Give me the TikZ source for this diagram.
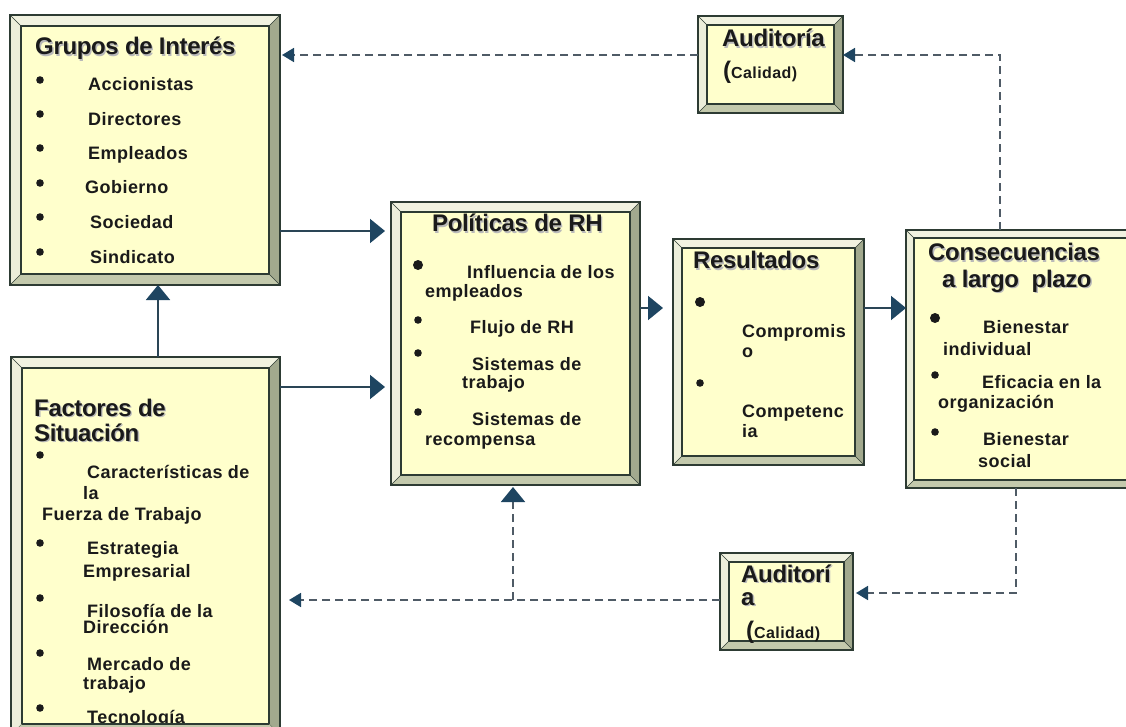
\documentclass[tikz,border=0pt]{standalone}
\usepackage{fontspec}
\setmainfont{Liberation Sans}
\newfontfamily\itemfam[LetterSpace=2.5]{Liberation Sans}
\newfontfamily\titlefam[LetterSpace=-1.5]{Liberation Sans}
\usetikzlibrary{arrows.meta,fit,calc}

\definecolor{boxfill}{HTML}{FFFFCC}
\definecolor{bevtop}{HTML}{F1F2E0}
\definecolor{bevleft}{HTML}{ECEEDA}
\definecolor{bevright}{HTML}{A2A98E}
\definecolor{bevbottom}{HTML}{C3C9AC}
\definecolor{edge}{HTML}{2D3B33}
\definecolor{ink}{HTML}{1A1A1A}
\definecolor{arrowc}{HTML}{1E4561}
\definecolor{linec}{HTML}{2A4556}
\definecolor{dashc}{HTML}{4F5B66}

\newcommand\itemfont{\itemfam\bfseries\fontsize{18}{20}\selectfont}
\newcommand\titlefont{\titlefam\bfseries\fontsize{24}{27}\selectfont}
\newcommand\smallfont{\itemfam\bfseries\fontsize{16}{18}\selectfont}

% Bevelled box: name, x1, y1, x2, y2, bevel width
\newcommand\bevbox[6]{%
  \fill[boxfill] (#2,#3) rectangle (#4,#5);
  \fill[bevtop] (#2,#3) -- (#4,#3) -- (#4-#6,#3+#6) -- (#2+#6,#3+#6) -- cycle;
  \fill[bevleft] (#2,#3) -- (#2+#6,#3+#6) -- (#2+#6,#5-#6) -- (#2,#5) -- cycle;
  \fill[bevright] (#4,#3) -- (#4,#5) -- (#4-#6,#5-#6) -- (#4-#6,#3+#6) -- cycle;
  \fill[bevbottom] (#2,#5) -- (#4,#5) -- (#4-#6,#5-#6) -- (#2+#6,#5-#6) -- cycle;
  \draw[edge, line width=0.6pt] (#2,#3) -- (#2+#6,#3+#6) (#4,#3) -- (#4-#6,#3+#6)
    (#2,#5) -- (#2+#6,#5-#6) (#4,#5) -- (#4-#6,#5-#6);
  \draw[edge, line width=1.6pt] (#2,#3) rectangle (#4,#5);
  \draw[edge, line width=1.2pt] (#2+#6,#3+#6) rectangle (#4-#6,#5-#6);
  \node[fit={(#2,#3) (#4,#5)}, inner sep=0pt, outer sep=0pt] (#1) {};
}

% Title text with a soft grey shadow
\newcommand\ttl[4]{%
  \node[title, text=gray!55] (#1s) at ([shift={(1.3pt,-1.3pt)}]#2,#3) {#4};
  \node[title] (#1) at (#2,#3) {#4};
}

\tikzset{
  item/.style={anchor=base west, inner sep=0pt, font=\itemfont, text=ink},
  title/.style={anchor=base west, inner sep=0pt, font=\titlefont, text=ink},
  link/.style={draw=linec, line width=1.8pt,
    -{Triangle[length=15pt,width=24pt,color=arrowc]}},
  dlink/.style={draw=dashc, line width=1.8pt, dash pattern=on 8pt off 5pt,
    -{Triangle[length=12pt,width=14pt,color=arrowc]}},
  dlinkbig/.style={draw=dashc, line width=1.8pt, dash pattern=on 8pt off 5pt,
    -{Triangle[length=15pt,width=24pt,color=arrowc]}},
}

\begin{document}
\begin{tikzpicture}[x=1pt, y=-1pt]
\useasboundingbox (0,0) rectangle (1126,727);
\fill[white] (0,0) rectangle (1126,727);

% boxes
\bevbox{grupos}{10}{15}{280}{285}{11}
\bevbox{factores}{11}{357}{280}{735}{11}
\bevbox{politicas}{391}{202}{640}{485}{10}
\bevbox{resultados}{673}{239}{864}{465}{9}
\bevbox{consec}{906}{230}{1140}{488}{8}
\bevbox{audit1}{698}{16}{843}{113}{9}
\bevbox{audit2}{720}{553}{853}{650}{9}

% Grupos de Interés
\ttl{tg}{35}{55}{Grupos de Interés}
\foreach \yy in {80,114,148,183,217,252} \fill[ink] (40,\yy) circle (3.8pt);
\node[item] (g1) at (88,91) {Accionistas};
\node[item] (g2) at (88,126) {Directores};
\node[item] (g3) at (88,160) {Empleados};
\node[item] (g4) at (85,194) {Gobierno};
\node[item] (g5) at (90,229) {Sociedad};
\node[item] (g6) at (90,263) {Sindicato};

% Factores de Situación
\ttl{tf1}{34}{416}{Factores de}
\ttl{tf2}{34}{441}{Situación}
\foreach \yy in {455,543,598,653,708} \fill[ink] (40,\yy) circle (3.8pt);
\node[item] (f1) at (87,478) {Características de};
\node[item] (f2) at (83,499) {la};
\node[item] (f3) at (42,520) {Fuerza de Trabajo};
\node[item] (f4) at (87,554) {Estrategia};
\node[item] (f5) at (83,577) {Empresarial};
\node[item] (f6) at (87,617) {Filosofía de la};
\node[item] (f7) at (83,633) {Dirección};
\node[item] (f8) at (87,670) {Mercado de};
\node[item] (f9) at (83,689) {trabajo};
\node[item] (f10) at (87,723) {Tecnología};
% lower bevel of the Factores box lies over its last line
\fill[bevbottom] (11,735) -- (280,735) -- (269,724) -- (22,724) -- cycle;
\draw[edge, line width=1.2pt] (22,724) -- (269,724);
\draw[edge, line width=1.6pt] (11,735) -- (280,735);

% Políticas de RH
\ttl{tp}{432}{232}{Políticas de RH}
\fill[ink] (418,265) circle (5pt);
\foreach \yy in {320,353,412} \fill[ink] (418,\yy) circle (3.8pt);
\node[item] (p1) at (467,278) {Influencia de los};
\node[item] (p2) at (425,297) {empleados};
\node[item] (p3) at (470,333) {Flujo de RH};
\node[item] (p4) at (472,370) {Sistemas de};
\node[item] (p5) at (462,388) {trabajo};
\node[item] (p6) at (472,425) {Sistemas de};
\node[item] (p7) at (425,445) {recompensa};

% Resultados
\ttl{tr}{693}{269}{Resultados}
\fill[ink] (700,302) circle (5pt);
\fill[ink] (700,383) circle (3.8pt);
\node[item] (r1) at (742,337) {Compromis};
\node[item] (r2) at (742,357) {o};
\node[item] (r3) at (742,417) {Competenc};
\node[item] (r4) at (742,437) {ia};

% Consecuencias a largo plazo
\ttl{tc1}{928}{261}{Consecuencias}
\ttl{tc2}{942}{287}{a largo\ \ plazo}
\fill[ink] (935,318) circle (5pt);
\foreach \yy in {375,432} \fill[ink] (935,\yy) circle (3.8pt);
\node[item] (c1) at (983,333) {Bienestar};
\node[item] (c2) at (943,355) {individual};
\node[item] (c3) at (982,388) {Eficacia en la};
\node[item] (c4) at (938,408) {organización};
\node[item] (c5) at (983,445) {Bienestar};
\node[item] (c6) at (978,467) {social};

% Auditoría (top)
\ttl{ta1}{722}{47}{Auditoría}
\node[anchor=base west, inner sep=0pt, text=ink] (ca1) at (723,79)
  {{\titlefont(}{\smallfont Calidad)}};

% Auditoría (bottom)
\ttl{ta2}{741}{582}{Auditorí}
\ttl{ta3}{741}{605}{a}
\node[anchor=base west, inner sep=0pt, text=ink] (ca2) at (746,638)
  {{\titlefont(}{\smallfont Calidad)}};

% routing helpers
\coordinate (rowA) at (0,231);
\coordinate (rowB) at (0,387);
\coordinate (rowC) at (0,308);
\coordinate (colA) at (158,0);
\coordinate (rowTop) at (0,55);
\coordinate (colTop) at (1000,0);
\coordinate (colBot) at (1016,0);
\coordinate (rowBotR) at (0,593);
\coordinate (rowBotL) at (0,600);
\coordinate (join) at (513,600);

% solid connectors
\draw[link, shorten >=6pt] (grupos.east |- rowA) -- (politicas.west |- rowA);
\draw[link, shorten >=6pt] (factores.east |- rowB) -- (politicas.west |- rowB);
\draw[link] (factores.north -| colA) -- (grupos.south -| colA);
\draw[link, shorten >=10pt] (politicas.east |- rowC) -- (resultados.west |- rowC);
\draw[link] (resultados.east |- rowC) -- (consec.west |- rowC);

% dashed feedback connectors
\draw[dlink, shorten >=2pt] (audit1.west |- rowTop) -- (grupos.east |- rowTop);
\draw[dlink] (consec.north -| colTop) |- (audit1.east |- rowTop);
\draw[dlink, shorten >=3pt] (consec.south -| colBot) |- (audit2.east |- rowBotR);
\draw[dlink, shorten >=9pt] (audit2.west |- rowBotL) -- (factores.east |- rowBotL);
\draw[dlinkbig, shorten >=2pt] (join) -- (politicas.south -| join);
\end{tikzpicture}
\end{document}
